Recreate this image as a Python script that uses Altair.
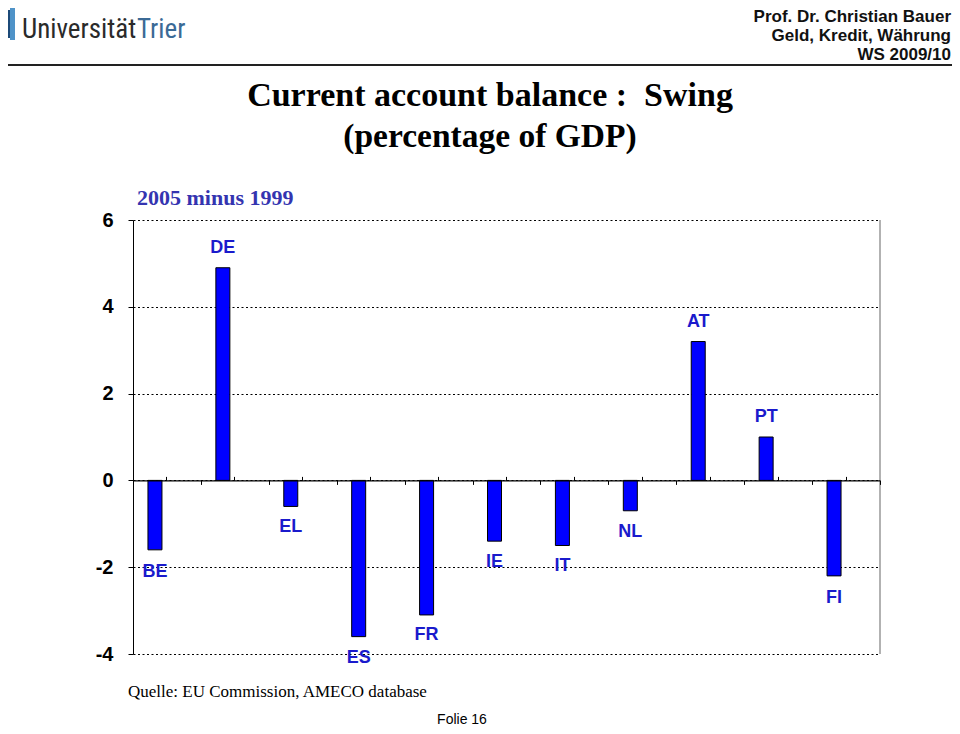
import altair as alt
import pandas as pd

# ---- data ----
countries = ["BE", "DE", "EL", "ES", "FR", "IE", "IT", "NL", "AT", "PT", "FI"]
values = [-1.6, 4.9, -0.6, -3.6, -3.1, -1.4, -1.5, -0.7, 3.2, 1.0, -2.2]
label_y = [-2.1, 5.35, -1.08, -4.1, -3.57, -1.89, -1.98, -1.2, 3.64, 1.45, -2.7]
y_ticks = [-4, -2, 0, 2, 4, 6]

df = pd.DataFrame({"country": countries, "value": values, "label_y": label_y})

W, H = 747, 434
ZERO_FROM_TOP = H * 6 / 10  # pixel position of zero inside plot

SANS = "Liberation Sans, Arial, sans-serif"
SERIF = "Liberation Serif, Times New Roman, serif"
NARROW = "Liberation Sans Narrow, Arial Narrow, Roboto Condensed, sans-serif"

xscale = alt.Scale(domain=countries, paddingInner=0, paddingOuter=0)
yscale = alt.Scale(domain=[-4, 6], nice=False, zero=False)

yaxis = alt.Axis(values=y_ticks, title=None, grid=True, gridDash=[2, 2.5],
                 gridColor="black", gridWidth=1, gridOpacity=1,
                 domainColor="black", tickColor="black", tickSize=5,
                 labelFont=SANS, labelFontWeight="bold", labelFontSize=20,
                 labelColor="black", labelPadding=15, labelExpr="'' + datum.value")

bars = alt.Chart(df).mark_bar(
    width=14, xOffset=-12, color="#0000ff", stroke="black", strokeWidth=1
).encode(
    x=alt.X("country:N", scale=xscale, sort=countries,
            axis=alt.Axis(orient="bottom", offset=-(H - ZERO_FROM_TOP), labels=False,
                          title=None, tickBand="extent", tickSize=4, grid=False,
                          domainColor="black", tickColor="black", domainWidth=1.2, zindex=1)),
    y=alt.Y("value:Q", scale=yscale, axis=yaxis),
)

labels = alt.Chart(df).mark_text(
    dx=-12, font=SANS, fontWeight="bold", fontSize=18, color="#1a1acc", baseline="middle"
).encode(
    x=alt.X("country:N", scale=xscale, sort=countries,
            axis=alt.Axis(orient="top", offset=-ZERO_FROM_TOP, labels=False, title=None,
                          domain=False, tickSize=4, tickColor="black", grid=False, zindex=1)),
    y=alt.Y("label_y:Q", scale=yscale, axis=yaxis),
    text="country:N",
)

# plot origin on page is (133, 220); annotation coords are relative to it
def txt(s, px, py, **kw):
    return alt.Chart(pd.DataFrame({"t": [s]})).mark_text(baseline="alphabetic", **kw).encode(
        x=alt.value(px - 133), y=alt.value(py - 220), text=alt.value(s))

def dummy():
    return alt.Chart(pd.DataFrame({"t": [0]}))

title1 = txt("Current account balance :\u00a0 Swing", 490, 106, align="center", font=SERIF,
             fontWeight="bold", fontSize=34, color="black")
title2 = txt("(percentage of GDP)", 490, 147, align="center", font=SERIF,
             fontWeight="bold", fontSize=33.5, color="black")
subtitle = txt("2005 minus 1999", 137, 205, align="left", font=SERIF,
               fontWeight="bold", fontSize=22, color="#3434b0")
prof1 = txt("Prof. Dr. Christian Bauer", 951, 22, align="right", font=SANS,
            fontWeight="bold", fontSize=17, color="#111111")
prof2 = txt("Geld, Kredit, Währung", 951, 41, align="right", font=SANS,
            fontWeight="bold", fontSize=17, color="#111111")
prof3 = txt("WS 2009/10", 951, 60, align="right", font=SANS,
            fontWeight="bold", fontSize=17, color="#111111")
uni = txt("Universität", 22, 38, align="left", font=NARROW, fontSize=27, color="#2a2a2a")
trier = txt("Trier", 137, 38, align="left", font=NARROW, fontSize=27, color="#3b6a96")
quelle = txt("Quelle: EU Commission, AMECO database", 128, 697, align="left", font=SERIF,
             fontSize=17, color="black")
folie = txt("Folie 16", 462, 724, align="center", font=SANS, fontSize=14, color="black")

sep = dummy().mark_rule(color="#222222", strokeWidth=2).encode(
    x=alt.value(-133), x2=alt.value(827), y=alt.value(65 - 220))
border = dummy().mark_rule(color="#999999", strokeWidth=1.5).encode(
    x=alt.value(W), y=alt.value(0), y2=alt.value(H))
logo_dark = dummy().mark_rect(color="#1c4a78").encode(
    x=alt.value(3 - 133), x2=alt.value(10 - 133), y=alt.value(10 - 220), y2=alt.value(38 - 220))
logo_light = dummy().mark_rect(color="#4f93c8").encode(
    x=alt.value(10 - 133), x2=alt.value(15 - 133), y=alt.value(8 - 220), y2=alt.value(40 - 220))

chart = alt.layer(
    bars, labels, border, sep, logo_dark, logo_light,
    title1, title2, subtitle, prof1, prof2, prof3, uni, trier, quelle, folie
).resolve_axis(x="independent").properties(
    width=W, height=H, autosize="none",
    padding={"left": 125, "top": 212, "right": 72, "bottom": 72},
).configure_view(stroke=None)

chart.save("out.html", embed_options={"renderer": "svg", "actions": False})
